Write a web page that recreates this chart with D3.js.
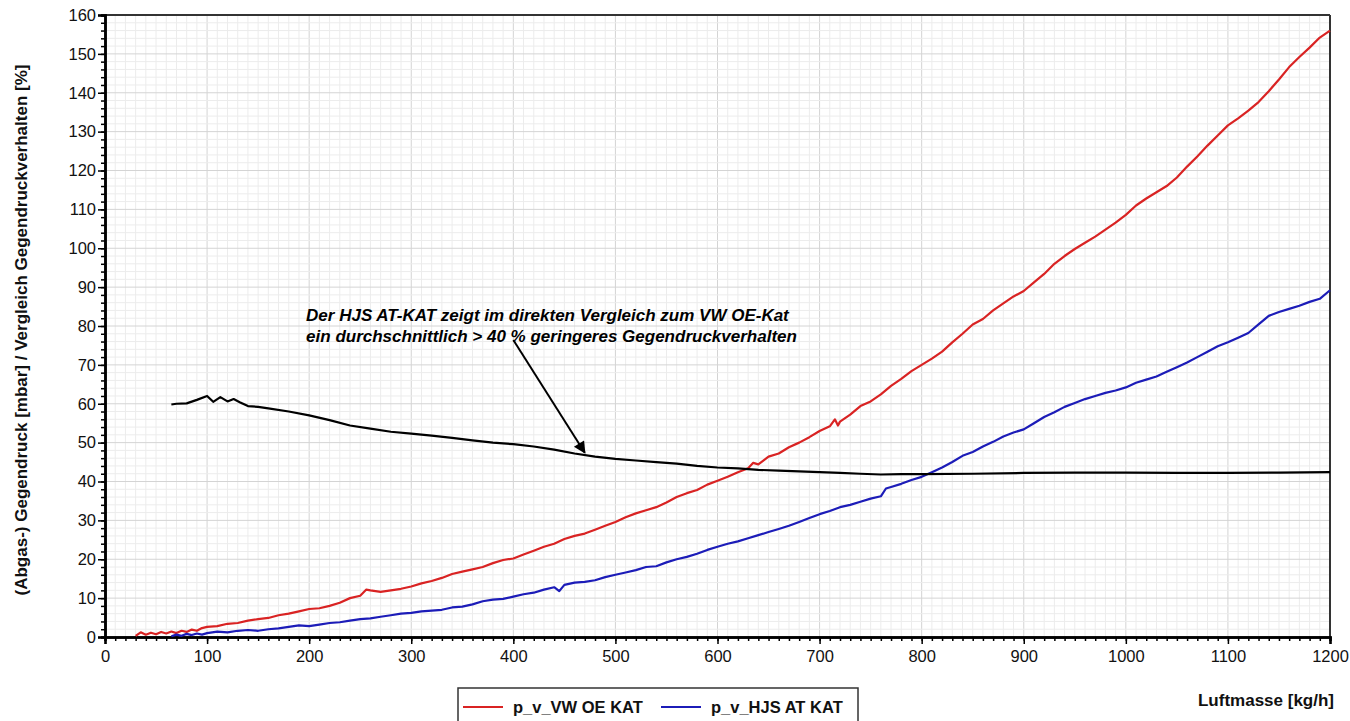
<!DOCTYPE html>
<html>
<head>
<meta charset="utf-8">
<script src="https://cdn.jsdelivr.net/npm/d3@7"></script>
<style>
  body { margin: 0; background: #fff; }
  text { font-family: Arial, "Liberation Sans", sans-serif; }
</style>
</head>
<body>
<div id="chart"></div>
<script>
var svgWidth = 1350;
var svgHeight = 721;

var margin = { top: 15, right: 20, bottom: 84, left: 105 };
var width = 1330 - margin.left;
var height = 637 - margin.top;

// data
var vwX = [30,35,40,45,50,55,60,65,70,75,80,85,90,95,100,110,120,130,140,150,160,170,180,190,200,210,220,230,240,250,256,260,270,280,290,300,
  310,320,330,340,350,360,370,380,390,400,410,420,430,440,450,460,470,480,490,500,510,520,530,540,550,560,570,580,590,600,
  610,620,630,635,640,650,660,670,680,690,700,710,715,718,720,730,740,750,760,770,780,790,800,810,820,830,840,850,860,870,880,890,900,
  910,920,930,940,950,960,970,980,990,1000,1010,1020,1030,1040,1050,1060,1070,1080,1090,1100,1110,1120,1130,1140,1150,
  1160,1170,1180,1190,1200];
var vwY = [0.3,1.2,0.6,1.1,0.7,1.3,0.9,1.4,1.0,1.6,1.3,1.9,1.6,2.3,2.6,2.8,3.4,3.6,4.2,4.6,4.9,5.6,6.0,6.6,7.2,7.4,8.0,8.8,10.0,10.6,12.2,12.0,11.6,12.0,12.4,13.0,
  13.8,14.4,15.2,16.2,16.8,17.4,18.0,19.0,19.8,20.2,21.2,22.2,23.2,24.0,25.2,26.0,26.6,27.6,28.6,29.6,30.8,31.8,32.6,33.4,34.6,36.0,37.0,37.8,39.2,40.2,
  41.2,42.4,43.4,44.8,44.4,46.4,47.2,48.8,50.0,51.4,53.0,54.2,56.0,54.4,55.4,57.2,59.4,60.6,62.4,64.6,66.4,68.4,70.0,71.6,73.4,75.8,78.0,80.4,81.8,84.0,85.8,87.6,89.0,
  91.2,93.4,96.0,98.0,99.8,101.4,103.0,104.8,106.6,108.6,111.0,112.8,114.4,116.0,118.2,121.0,123.6,126.4,129.0,131.6,133.4,135.4,137.6,140.4,143.4,
  146.6,149.2,151.6,154.2,156.0];

var hjsX = [65,70,75,80,85,90,95,100,110,120,130,140,150,160,170,180,190,200,210,220,230,240,250,260,270,280,290,300,
  310,320,330,340,350,360,370,380,390,400,410,420,430,440,445,450,460,470,480,490,500,510,520,530,540,550,560,570,580,590,600,
  610,620,630,640,650,660,670,680,690,700,710,720,730,740,750,760,765,770,780,790,800,810,820,830,840,850,860,870,880,890,900,
  910,920,930,940,950,960,970,980,990,1000,1010,1020,1030,1040,1050,1060,1070,1080,1090,1100,1110,1120,1130,1140,1150,
  1160,1170,1180,1190,1200];
var hjsY = [0.2,0.6,0.3,0.8,0.5,0.9,0.6,1.0,1.4,1.2,1.6,1.8,1.6,2.0,2.2,2.6,3.0,2.8,3.2,3.6,3.8,4.2,4.6,4.8,5.2,5.6,6.0,6.2,
  6.6,6.8,7.0,7.6,7.8,8.4,9.2,9.6,9.8,10.4,11.0,11.4,12.2,12.8,11.8,13.4,14.0,14.2,14.6,15.4,16.0,16.6,17.2,18.0,18.2,19.2,20.0,20.6,21.4,22.4,23.2,
  24.0,24.6,25.4,26.2,27.0,27.8,28.6,29.6,30.6,31.6,32.4,33.4,34.0,34.8,35.6,36.2,38.2,38.6,39.4,40.4,41.2,42.4,43.6,45.0,46.6,47.6,49.0,50.2,51.6,52.6,53.4,
  55.0,56.6,57.8,59.2,60.2,61.2,62.0,62.8,63.4,64.2,65.4,66.2,67.0,68.2,69.4,70.6,72.0,73.4,74.8,75.8,77.0,78.2,80.4,82.6,83.6,
  84.4,85.2,86.2,87.0,89.2];

var vglX = [65,70,80,90,100,106,113,120,126,132,140,150,160,180,200,220,240,260,280,300,320,340,360,380,400,420,440,460,480,500,
  520,540,560,580,600,620,640,660,680,700,720,740,760,780,800,850,900,950,1000,1050,1100,1150,1200];
var vglY = [59.8,60.0,60.1,61.0,62.0,60.5,61.7,60.6,61.2,60.4,59.4,59.2,58.8,58.0,57.0,55.8,54.4,53.6,52.8,52.3,51.8,51.2,50.6,50.0,49.6,49.0,48.2,47.2,46.4,45.8,
  45.4,45.0,44.6,44.0,43.6,43.4,43.0,42.8,42.6,42.4,42.2,42.0,41.8,41.9,41.9,42.0,42.2,42.3,42.3,42.2,42.2,42.3,42.4];

var xTicks = [0,100,200,300,400,500,600,700,800,900,1000,1100,1200];
var yTicks = [0,10,20,30,40,50,60,70,80,90,100,110,120,130,140,150,160];

var noteLines = ["Der HJS AT-KAT zeigt im direkten Vergleich zum VW OE-Kat",
  "ein durchschnittlich > 40 % geringeres Gegendruckverhalten"];
var arrowFrom = [400, 76.4];
var arrowTo = [470, 47.4];

var svg = d3.select("#chart")
  .append("svg")
  .attr("width", svgWidth)
  .attr("height", svgHeight);

var chartGroup = svg.append("g")
  .attr("transform", `translate(${margin.left}, ${margin.top})`);

var xScale = d3.scaleLinear().domain([0, 1200]).range([0, width]);
var yScale = d3.scaleLinear().domain([0, 160]).range([height, 0]);

// grid
chartGroup.append("g")
  .selectAll("line")
  .data(d3.range(0, 1201, 10))
  .enter()
  .append("line")
  .attr("x1", d => xScale(d)).attr("x2", d => xScale(d))
  .attr("y1", 0).attr("y2", height)
  .attr("stroke", d => d % 100 === 0 ? "#d4d4d4" : "#ececec")
  .attr("stroke-width", 1);

chartGroup.append("g")
  .selectAll("line")
  .data(d3.range(0, 161, 2))
  .enter()
  .append("line")
  .attr("y1", d => yScale(d)).attr("y2", d => yScale(d))
  .attr("x1", 0).attr("x2", width)
  .attr("stroke", d => d % 10 === 0 ? "#d4d4d4" : "#ececec")
  .attr("stroke-width", 1);

// frame top/right
chartGroup.append("line").attr("x1", 0).attr("x2", width).attr("y1", 0).attr("y2", 0)
  .attr("stroke", "#333").attr("stroke-width", 2);
chartGroup.append("line").attr("x1", width).attr("x2", width).attr("y1", 0).attr("y2", height)
  .attr("stroke", "#333").attr("stroke-width", 2);

// axes
var bottomMinor = d3.axisBottom(xScale).tickValues(d3.range(0, 1201, 10)).tickSize(4).tickFormat("");
var bottomAxis = d3.axisBottom(xScale).tickValues(xTicks).tickSize(7).tickPadding(6).tickFormat(d3.format("d"));
var leftMinor = d3.axisLeft(yScale).tickValues(d3.range(0, 161, 2)).tickSize(4).tickFormat("");
var leftAxis = d3.axisLeft(yScale).tickValues(yTicks).tickSize(7).tickPadding(2).tickFormat(d3.format("d"));

[chartGroup.append("g").attr("transform", `translate(0, ${height})`).call(bottomMinor),
 chartGroup.append("g").attr("transform", `translate(0, ${height})`).call(bottomAxis),
 chartGroup.append("g").call(leftMinor),
 chartGroup.append("g").call(leftAxis)].forEach(function(ax) {
  ax.select(".domain").attr("stroke", "#000").attr("stroke-width", 2.5);
  ax.selectAll(".tick line").attr("stroke", "#000").attr("stroke-width", 1.5);
  ax.selectAll(".tick text").attr("fill", "#111").style("font-size", "16.5px")
    .style("font-family", "Arial, 'Liberation Sans', sans-serif");
});

// lines
var series = [
  { x: vwX, y: vwY, color: "#d92323" },
  { x: hjsX, y: hjsY, color: "#1c1cb8" },
  { x: vglX, y: vglY, color: "#000000" }
];

var lineGen = d3.line()
  .x(d => xScale(d[0]))
  .y(d => yScale(d[1]));

series.forEach(function(s) {
  chartGroup.append("path")
    .datum(s.x.map((v, i) => [v, s.y[i]]))
    .attr("fill", "none")
    .attr("stroke", s.color)
    .attr("stroke-width", 2.2)
    .attr("stroke-linejoin", "round")
    .attr("d", lineGen);
});

// annotation
svg.append("defs").append("marker")
  .attr("id", "arrowhead")
  .attr("viewBox", "0 0 10 10")
  .attr("refX", 9).attr("refY", 5)
  .attr("markerWidth", 8).attr("markerHeight", 6)
  .attr("markerUnits", "strokeWidth")
  .attr("orient", "auto")
  .append("path")
  .attr("d", "M0,0 L10,5 L0,10 z")
  .attr("fill", "#000");

chartGroup.append("line")
  .attr("x1", xScale(arrowFrom[0])).attr("y1", yScale(arrowFrom[1]))
  .attr("x2", xScale(arrowTo[0])).attr("y2", yScale(arrowTo[1]))
  .attr("stroke", "#000").attr("stroke-width", 2)
  .attr("marker-end", "url(#arrowhead)");

chartGroup.selectAll(".note")
  .data(noteLines)
  .enter()
  .append("text")
  .attr("class", "note")
  .attr("x", xScale(197))
  .attr("y", (d, i) => yScale(81.4) + i * 21)
  .style("font-size", "17px")
  .style("font-weight", "bold")
  .style("font-style", "italic")
  .attr("fill", "#000")
  .text(d => d);

// axis labels
svg.append("text")
  .attr("transform", `translate(27, 330) rotate(-90)`)
  .attr("text-anchor", "middle")
  .style("font-size", "17px")
  .style("font-weight", "bold")
  .attr("fill", "#111")
  .text("(Abgas-) Gegendruck [mbar] / Vergleich Gegendruckverhalten [%]");

svg.append("text")
  .attr("x", 1334)
  .attr("y", 706)
  .attr("text-anchor", "end")
  .style("font-size", "17px")
  .style("font-weight", "bold")
  .attr("fill", "#111")
  .text("Luftmasse [kg/h]");

// legend
var legend = svg.append("g");
legend.append("rect")
  .attr("x", 458).attr("y", 688)
  .attr("width", 400).attr("height", 40)
  .attr("fill", "#fff").attr("stroke", "#333").attr("stroke-width", 1.5);

var legendItems = [
  { label: "p_v_VW OE KAT", color: "#d92323", x: 463 },
  { label: "p_v_HJS AT KAT", color: "#1c1cb8", x: 661 }
];
legendItems.forEach(function(it) {
  legend.append("line")
    .attr("x1", it.x).attr("x2", it.x + 40)
    .attr("y1", 707).attr("y2", 707)
    .attr("stroke", it.color).attr("stroke-width", 2);
  legend.append("text")
    .attr("x", it.x + 50).attr("y", 713)
    .style("font-size", "16.5px")
    .style("font-weight", "bold")
    .attr("fill", "#111")
    .text(it.label);
});
</script>
</body>
</html>
